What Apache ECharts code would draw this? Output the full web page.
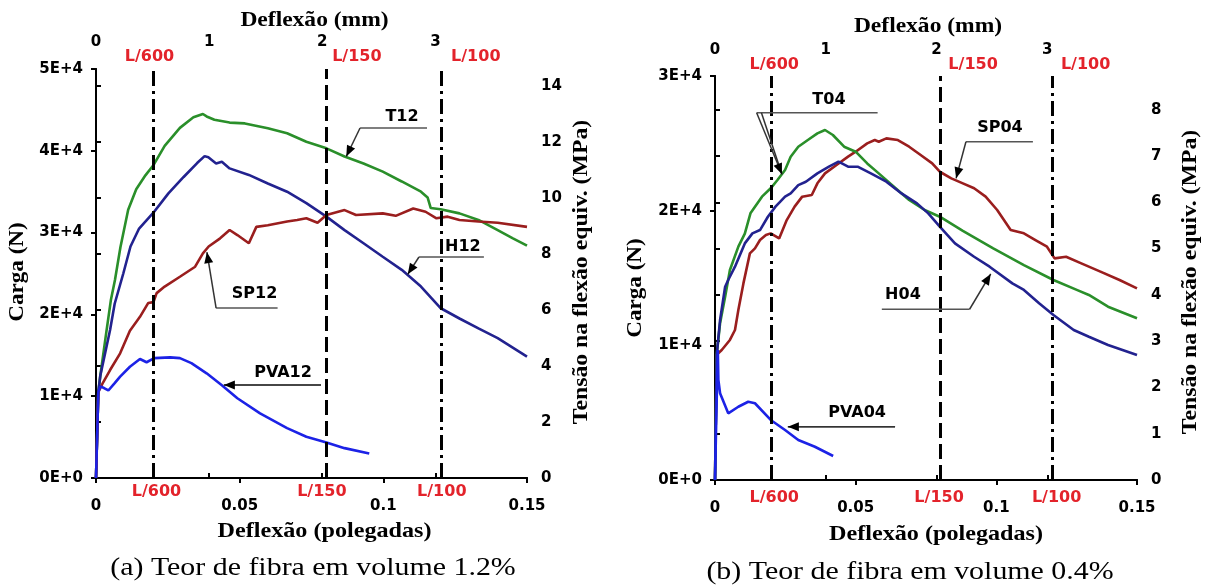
<!DOCTYPE html>
<html>
<head>
<meta charset="utf-8">
<script src="https://cdn.jsdelivr.net/npm/echarts@6/dist/echarts.min.js"></script>
<style>
html,body{margin:0;padding:0;background:#fff;}
#c{width:1209px;height:588px;}
</style>
</head>
<body>
<div id="c"></div>
<script>
// ---------- DATA (deflection in inches, load in N) ----------
const t12 = [[0,0],[0.0008,10500],[0.0015,12500],[0.0037,18100],[0.0052,21800],[0.0066,24200],[0.0085,28200],[0.0112,32800],[0.0140,35300],[0.0172,37000],[0.0201,38300],[0.0239,40600],[0.0292,42800],[0.0339,44100],[0.0372,44500],[0.0385,44200],[0.0412,43800],[0.0465,43450],[0.0518,43350],[0.0598,42750],[0.0665,42150],[0.0732,41100],[0.0802,40300],[0.0865,39300],[0.0931,38450],[0.0998,37450],[0.1064,36250],[0.1131,35000],[0.1154,34300],[0.1165,33000],[0.1199,32850],[0.1265,32350],[0.1331,31550],[0.1398,30300],[0.1451,29300],[0.1500,28400]];
const h12 = [[0,0],[0.0008,10500],[0.0015,12500],[0.0049,18100],[0.0065,21300],[0.0095,25000],[0.0120,28300],[0.0150,30500],[0.0199,32400],[0.0252,34800],[0.0305,36800],[0.0352,38500],[0.0378,39350],[0.0391,39200],[0.0418,38450],[0.0438,38650],[0.0465,37850],[0.0532,37050],[0.0598,36000],[0.0665,35000],[0.0732,33600],[0.0802,31950],[0.0865,30300],[0.0931,28700],[0.0998,27050],[0.1064,25450],[0.1131,23400],[0.1200,20750],[0.1265,19500],[0.1331,18300],[0.1398,17100],[0.1500,14850]];
const sp12 = [[0,0],[0.0008,10500],[0.0025,11700],[0.0049,13200],[0.0084,15240],[0.0118,18000],[0.0153,19700],[0.0182,21400],[0.0200,21500],[0.0211,22600],[0.0239,23400],[0.0292,24600],[0.0345,25830],[0.0372,27470],[0.0392,28300],[0.0432,29300],[0.0465,30320],[0.0492,29700],[0.0532,28700],[0.0558,30700],[0.0598,30900],[0.0665,31350],[0.0700,31550],[0.0732,31750],[0.0771,31200],[0.0802,32150],[0.0865,32750],[0.0905,32150],[0.0998,32350],[0.1043,32050],[0.1104,32950],[0.1147,32550],[0.1185,31750],[0.1224,31950],[0.1265,31550],[0.1331,31350],[0.1398,31200],[0.1500,30700]];
const pva12 = [[0,0],[0.0004,5000],[0.0008,10500],[0.0015,11200],[0.0028,11000],[0.0043,10700],[0.0065,11600],[0.0084,12400],[0.0118,13600],[0.0153,14550],[0.0176,14150],[0.0203,14650],[0.0258,14750],[0.0292,14650],[0.0332,14050],[0.0385,12800],[0.0438,11350],[0.0492,9750],[0.0571,7900],[0.0665,6100],[0.0732,5050],[0.0802,4350],[0.0865,3650],[0.0951,3000]];

const t04 = [[0,0],[0.0006,9300],[0.0018,11640],[0.0036,13600],[0.0053,15590],[0.0083,17330],[0.0106,18300],[0.0126,19800],[0.0167,21040],[0.0198,21660],[0.0222,22275],[0.0249,23020],[0.0269,24000],[0.0296,24750],[0.0330,25250],[0.0364,25740],[0.0391,25990],[0.0419,25620],[0.0459,24750],[0.0500,24380],[0.0541,23510],[0.0582,22770],[0.0636,21780],[0.0690,20790],[0.0745,20050],[0.0799,19550],[0.0881,18500],[0.0989,17200],[0.1098,15960],[0.1203,14850],[0.1288,14100],[0.1329,13740],[0.1397,12870],[0.1500,12010]];
const h04 = [[0,0],[0.0006,9300],[0.0018,11880],[0.0036,14350],[0.0047,14850],[0.0071,15840],[0.0106,17570],[0.0133,18315],[0.0160,18560],[0.0188,19550],[0.0215,20300],[0.0249,21040],[0.0269,21280],[0.0296,21900],[0.0323,22150],[0.0364,22770],[0.0405,23265],[0.0439,23640],[0.0473,23265],[0.0507,23265],[0.0554,22770],[0.0609,22150],[0.0663,21280],[0.0718,20540],[0.0758,19800],[0.0799,18810],[0.0853,17570],[0.0921,16580],[0.0976,15840],[0.1057,14600],[0.1098,14110],[0.1152,13120],[0.1203,12250],[0.1275,11140],[0.1329,10640],[0.1397,10020],[0.1500,9280]];
const sp04 = [[0,0],[0.0006,9300],[0.0024,9650],[0.0053,10400],[0.0071,11140],[0.0083,12620],[0.0101,14600],[0.0124,16830],[0.0142,17200],[0.0160,17820],[0.0181,18190],[0.0198,18315],[0.0228,17940],[0.0255,19300],[0.0283,20300],[0.0310,21040],[0.0344,21160],[0.0364,22030],[0.0391,22770],[0.0432,23390],[0.0473,24010],[0.0500,24380],[0.0541,25000],[0.0568,25245],[0.0582,25120],[0.0609,25370],[0.0650,25245],[0.0690,24750],[0.0731,24130],[0.0772,23510],[0.0799,22890],[0.0840,22400],[0.0881,22030],[0.0921,21660],[0.0962,21040],[0.1003,20050],[0.1051,18560],[0.1098,18315],[0.1139,17820],[0.1180,17325],[0.1207,16460],[0.1248,16580],[0.1302,16090],[0.1370,15470],[0.1438,14850],[0.1500,14230]];
const pva04 = [[0,0],[0.0005,5000],[0.0010,9650],[0.0012,7430],[0.0018,6440],[0.0047,4950],[0.0083,5440],[0.0118,5810],[0.0142,5700],[0.0198,4460],[0.0249,3710],[0.0296,2970],[0.0355,2470],[0.0420,1780]];

// limit deflections (span/600, span/150, span/100) in inches
const limitX = [0.02, 0.08, 0.12];
const limitNames = ['L/600', 'L/150', 'L/100'];

// tick labels
const inchTicks = [0, 0.05, 0.1, 0.15];
const mmTicks = [0, 1, 2, 3];
const loadTicksA = [0, 10000, 20000, 30000, 40000, 50000];
const loadTicksB = [0, 10000, 20000, 30000];
const mpaTicksA = [0, 2, 4, 6, 8, 10, 12, 14];
const mpaTicksB = [0, 1, 2, 3, 4, 5, 6, 7, 8];

// annotation anchor points (data coordinates)
const annA = [
  {name:'T12',  text:[0.1065,44130], line:[[0.0919,42790],[0.1152,42790]], from:[0.0919,42790], tip:[0.0871,39300]},
  {name:'H12',  text:[0.1277,28240], line:[[0.1124,27020],[0.1350,27020]], from:[0.1124,27020], tip:[0.1085,24900]},
  {name:'SP12', text:[0.0552,22490], line:[[0.0418,20780],[0.0632,20780]], from:[0.0418,20780], tip:[0.0386,27600]},
  {name:'PVA12',text:[0.0651,12840], line:[[0.0445,11370],[0.0783,11370]], from:[0.0783,11370], tip:[0.0445,11370]}
];
const annB = [
  {name:'T04',  text:[0.0405,28220], line:[[0.0148,27270],[0.0578,27270]], from:[0.0148,27270], tip:[0.0238,22700], from2:[0.0165,27270]},
  {name:'SP04', text:[0.1013,26140], line:[[0.0892,25120],[0.1130,25120]], from:[0.0892,25120], tip:[0.0857,22400]},
  {name:'H04',  text:[0.0668,13740], line:[[0.0593,12680],[0.0905,12680]], from:[0.0905,12680], tip:[0.0980,15300]},
  {name:'PVA04',text:[0.0505,4980],  line:[[0.0259,3960],[0.0640,3960]], from:[0.0640,3960], tip:[0.0259,3960]}
];

// ---------- STYLE ----------
const C_T = '#2a8f2a', C_H = '#22228f', C_SP = '#9a1e1e', C_PVA = '#1c22e6';
const RED = '#e3232b';
const SANS = 'DejaVu Sans';
const SERIF = 'Liberation Serif';

function loadFmt(v){ return v === 0 ? '0E+0' : (v/10000) + 'E+4'; }
function inchFmt(v){ return v === 0 ? '0' : String(+v.toFixed(2)); }

const lblBase = {color:'#000', fontFamily:SANS, fontWeight:'bold', fontSize:15};
const lineBase = {show:true, lineStyle:{color:'#000', width:2}};
const tickBase = {show:true, length:5, lineStyle:{color:'#000', width:2}};

function xAxes(grid, labelMargin, topMargin){
  return [
    {type:'value', gridIndex:grid, position:'bottom', min:0, max:0.15, interval:0.05,
     axisLine:lineBase, axisTick:Object.assign({}, tickBase, {customValues:inchTicks}),
     axisLabel:Object.assign({}, lblBase, {margin:labelMargin, formatter:inchFmt, customValues:inchTicks}),
     splitLine:{show:false}},
    {type:'value', gridIndex:grid, position:'top', min:0, max:0.15*25.4, interval:1,
     axisLine:lineBase, axisTick:Object.assign({}, tickBase, {customValues:mmTicks}),
     axisLabel:Object.assign({}, lblBase, {margin:topMargin, customValues:mmTicks, formatter:v=>String(v)}),
     splitLine:{show:false}}
  ];
}
function yAxes(grid, loadMax, loadTicks, mpaMax, mpaTicks, mpaInt){
  return [
    {type:'value', gridIndex:grid, position:'left', min:0, max:loadMax, interval:10000,
     axisLine:lineBase, axisTick:Object.assign({}, tickBase, {customValues:loadTicks}),
     axisLabel:Object.assign({}, lblBase, {margin:13, formatter:loadFmt, customValues:loadTicks}),
     splitLine:{show:false}},
    {type:'value', gridIndex:grid, position:'right', min:0, max:mpaMax, interval:mpaInt,
     axisLine:lineBase, axisTick:Object.assign({}, tickBase, {customValues:mpaTicks}),
     axisLabel:Object.assign({}, lblBase, {margin:14, customValues:mpaTicks, formatter:v=>String(v)}),
     splitLine:{show:false}}
  ];
}

const dashDot = [15, 5, 3, 5];
const dashed = [15, 6];
function limitMarks(){
  return {
    silent:true, symbol:'none', animation:false,
    label:{show:false},
    lineStyle:{color:'#000', width:3},
    data: limitX.map((x,i)=>({xAxis:x, lineStyle:{color:'#000', width:3, type: i===1 ? dashed : dashDot}}))
  };
}
function lineSeries(name, data, color, xi, yi, extra){
  return Object.assign({
    name, type:'line', data, xAxisIndex:xi, yAxisIndex:yi,
    showSymbol:false, symbol:'none', smooth:false, animation:false,
    lineStyle:{color, width:2.6}, itemStyle:{color}, z:3
  }, extra||{});
}

const chart = echarts.init(document.getElementById('c'), null, {renderer:'canvas'});
chart.setOption({
  animation:false,
  backgroundColor:'#fff',
  grid:[
    {left:96, top:69, width:431, height:409, containLabel:false},
    {left:715, top:76, width:422, height:404, containLabel:false}
  ],
  xAxis: xAxes(0, 21, 19).concat(xAxes(1, 21, 18)),
  yAxis: yAxes(0, 50000, loadTicksA, 50000*14/47900, mpaTicksA, 2)
         .concat(yAxes(1, 30000, loadTicksB, 30000*8/27500, mpaTicksB, 1)),
  series:[
    lineSeries('T12', t12, C_T, 0, 0, {markLine:limitMarks()}),
    lineSeries('H12', h12, C_H, 0, 0),
    lineSeries('SP12', sp12, C_SP, 0, 0),
    lineSeries('PVA12', pva12, C_PVA, 0, 0),
    lineSeries('SP04', sp04, C_SP, 2, 2, {markLine:limitMarks()}),
    lineSeries('T04', t04, C_T, 2, 2),
    lineSeries('H04', h04, C_H, 2, 2),
    lineSeries('PVA04', pva04, C_PVA, 2, 2)
  ]
});

// ---------- text & annotation overlays positioned from data ----------
function px(xi, yi, p){ return chart.convertToPixel({xAxisIndex:xi, yAxisIndex:yi}, p); }

function txt(x, y, text, o){
  o = o || {};
  return {type:'text', x, y, rotation:o.rot||0, scaleX:o.sx||1, scaleY:1, z:50, silent:true,
    style:{text, fill:o.fill||'#000', fontFamily:o.family||SANS, fontWeight:o.weight||'bold',
      fontSize:o.size||16, align:'center', verticalAlign:'middle', textAlign:'center', textVerticalAlign:'middle'}};
}
function arrowHead(from, tip, len, half){
  const dx = tip[0]-from[0], dy = tip[1]-from[1];
  const d = Math.sqrt(dx*dx+dy*dy) || 1;
  const ux = dx/d, uy = dy/d;
  const bx = tip[0]-ux*len, by = tip[1]-uy*len;
  return [[tip[0],tip[1]],[bx - uy*half, by + ux*half],[bx + uy*half, by - ux*half]];
}

const gfx = [];
function panel(xi, yi, ann, cfg){
  const x0 = px(xi, yi, [0,0]);
  const x1 = px(xi, yi, [0.15,0]);
  const yTop = px(xi, yi, [0, cfg.loadMax])[1];
  const yBot = x0[1];
  const cx = (x0[0]+x1[0])/2;
  // red limit labels
  limitX.forEach((lx,i)=>{
    const p = px(xi, yi, [lx, 0]);
    gfx.push(txt(p[0]+cfg.topOff[i], yTop - cfg.topDy, limitNames[i], {fill:RED, size:16}));
    gfx.push(txt(p[0]+cfg.botOff[i], yBot + cfg.botDy, limitNames[i], {fill:RED, size:16}));
  });
  // axis titles
  gfx.push(txt(cx + cfg.topTitleDx, cfg.topTitleY, 'Deflexão (mm)', {family:SERIF, size:21, sx:1.12}));
  gfx.push(txt(cx + cfg.botTitleDx, cfg.botTitleY, 'Deflexão (polegadas)', {family:SERIF, size:21, sx:1.15}));
  gfx.push(txt(cfg.loadTitleX, cfg.loadTitleY, 'Carga (N)', {family:SERIF, size:21, sx:1.1, rot:Math.PI/2}));
  gfx.push(txt(cfg.mpaTitleX, cfg.mpaTitleY, 'Tensão na flexão equiv. (MPa)', {family:SERIF, size:21, sx:1.13, rot:Math.PI/2}));
  gfx.push(txt(cfg.subX, cfg.subY, cfg.sub, {family:SERIF, weight:'normal', size:26, sx:1.15}));
  // annotations
  ann.forEach(a=>{
    const t = px(xi, yi, a.text);
    gfx.push(txt(t[0], t[1], a.name, {size:16}));
    const l0 = px(xi, yi, a.line[0]), l1 = px(xi, yi, a.line[1]);
    gfx.push({type:'polyline', z:40, silent:true, shape:{points:[l0,l1]}, style:{stroke:'#555', lineWidth:1.5, fill:null}});
    const f = px(xi, yi, a.from), tp = px(xi, yi, a.tip);
    gfx.push({type:'polyline', z:40, silent:true, shape:{points:[f,tp]}, style:{stroke:'#333', lineWidth:1.5, fill:null}});
    if (a.from2){
      const f2 = px(xi, yi, a.from2);
      gfx.push({type:'polyline', z:40, silent:true, shape:{points:[f2,tp]}, style:{stroke:'#333', lineWidth:1.5, fill:null}});
    }
    gfx.push({type:'polygon', z:41, silent:true, shape:{points:arrowHead(f, tp, 11, 4.5)}, style:{fill:'#000', stroke:null}});
  });
}

panel(0, 0, annA, {
  loadMax:50000, topOff:[-4, 31, 35], botOff:[3, -4, 1], topDy:12, botDy:14,
  topTitleDx:3, topTitleY:21, botTitleDx:13, botTitleY:532,
  loadTitleX:18, loadTitleY:272, mpaTitleX:582, mpaTitleY:272,
  subX:313, subY:568, sub:'(a) Teor de fibra em volume 1.2%'
});
panel(2, 2, annB, {
  loadMax:30000, topOff:[3, 33, 33], botOff:[3, -1, 4], topDy:11, botDy:18,
  topTitleDx:2, topTitleY:27, botTitleDx:10, botTitleY:535,
  loadTitleX:636, loadTitleY:288, mpaTitleX:1191, mpaTitleY:282,
  subX:910, subY:572, sub:'(b) Teor de fibra em volume 0.4%'
});

chart.setOption({graphic: gfx});
</script>
</body>
</html>
